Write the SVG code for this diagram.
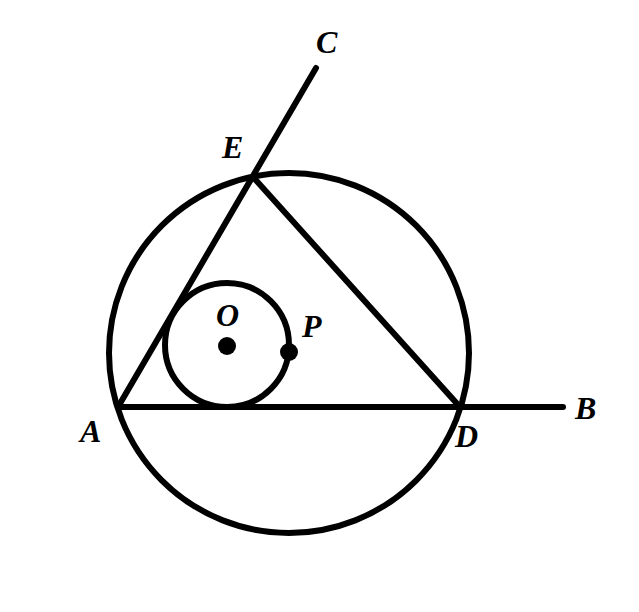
<svg xmlns="http://www.w3.org/2000/svg" width="639" height="612" viewBox="0 0 639 612">
<style>
.ln{stroke:#000;stroke-width:6;fill:none;stroke-linecap:round}
.lb{font-family:"Liberation Serif",serif;font-weight:bold;font-style:italic;font-size:32px;fill:#000}
</style>
<rect width="639" height="612" fill="#fff"/>
<g id="connectors">
<line class="ln" x1="118" y1="407" x2="316" y2="68"/>
<line class="ln" x1="118" y1="407" x2="563" y2="407"/>
<line class="ln" x1="253" y1="177" x2="460" y2="407"/>
</g>
<g id="circle-big"><circle class="ln" cx="289" cy="353" r="180"/></g>
<g id="circle-O"><circle class="ln" cx="227" cy="345" r="62"/></g>
<g id="O"><circle cx="227" cy="346" r="9"/><text class="lb" x="216" y="326">O</text></g>
<g id="P"><circle cx="289" cy="352" r="9"/><text class="lb" x="302" y="337">P</text></g>
<g id="A"><text class="lb" x="80" y="442">A</text></g>
<g id="B"><text class="lb" x="575" y="419">B</text></g>
<g id="C"><text class="lb" x="316" y="53">C</text></g>
<g id="D"><text class="lb" x="455" y="447">D</text></g>
<g id="E"><text class="lb" x="222" y="158">E</text></g>
</svg>
